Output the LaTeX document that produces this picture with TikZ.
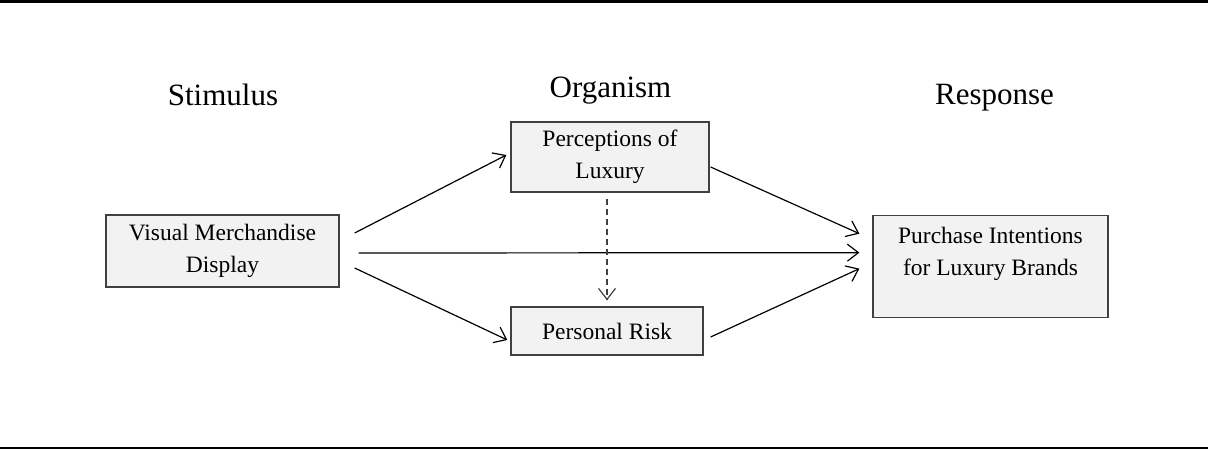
\documentclass[tikz,border=0pt]{standalone}
\usepackage{fontspec}
\setmainfont{Liberation Serif}
\usetikzlibrary{arrows.meta,calc}

\definecolor{boxfill}{HTML}{F2F2F2}
\definecolor{boxline}{HTML}{404040}

\tikzset{
  stagetitle/.style={anchor=base, inner sep=0pt, font=\fontsize{31}{36}\selectfont},
  varbox/.style={draw=boxline, fill=boxfill, line width=1.3pt, align=center,
    inner sep=0pt, font=\fontsize{23.5}{32}\selectfont},
  link/.style={line width=1.2pt, -{Straight Barb[length=11pt,width=17pt,line width=1.2pt]}},
  dashlink/.style={link, draw=boxline, dash pattern=on 6pt off 4pt}
}

\begin{document}
\begin{tikzpicture}[x=1pt,y=-1pt]
  \useasboundingbox (0,0) rectangle (1208,450);

  % horizontal rules framing the figure
  \coordinate (ruleTL) at (0,1.5);
  \coordinate (ruleTR) at (1208,1.5);
  \coordinate (ruleBL) at (0,448);
  \coordinate (ruleBR) at (1208,448);
  \draw[line width=2.6pt] (ruleTL) -- (ruleTR);
  \draw[line width=2.6pt] (ruleBL) -- (ruleBR);

  % stage headings
  \node[stagetitle] (stim) at (223,105) {Stimulus};
  \node[stagetitle] (org)  at (610.5,97) {Organism};
  \node[stagetitle] (resp) at (994.5,104) {Response};

  % variables
  \node[varbox, minimum width=233, minimum height=72] (vmd) at (222.5,251)
    {Visual Merchandise\\Display};
  \node[varbox, minimum width=198, minimum height=70] (perc) at (610,157)
    {Perceptions of\\Luxury};
  \node[varbox, minimum width=192, minimum height=48] (risk) at (607,331)
    {Personal Risk};
  \node[varbox, minimum width=235, minimum height=102, anchor=north] (purch) at (990.5,215)
    {\parbox[t][96pt][t]{230pt}{\centering\rule{0pt}{25pt}Purchase Intentions\\for Luxury Brands}};

  % paths
  \draw[link] ($(vmd.east)+(15,-18)$) -- ($(perc.west)+(-4,-2)$);
  \draw[link] ($(vmd.east)+(15,17)$) -- ($(risk.west)+(-3,9)$);
  \draw[link] ($(vmd.east)+(19,2)$) -- ($(purch.west)+(-13,-14)$);
  \draw[link] ($(perc.east)+(1,10)$) -- ($(purch.west)+(-13,-33)$);
  \draw[link] ($(risk.east)+(7,6)$) -- ($(purch.west)+(-13,2)$);
  \draw[dashlink] ($(perc.south)+(-3,6)$) -- ($(risk.north)+(0,-6)$);
\end{tikzpicture}
\end{document}
